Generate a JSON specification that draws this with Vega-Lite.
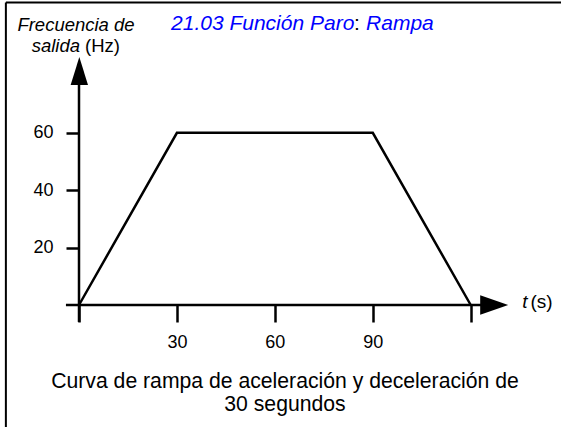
{
  "$schema": "https://vega.github.io/schema/vega-lite/v6.json",
  "width": 457,
  "height": 244,
  "autosize": {"type": "none"},
  "padding": {"left": 79, "top": 61, "right": 25, "bottom": 122},
  "background": "white",
  "config": {"view": {"stroke": null}, "font": "Liberation Sans"},
  "data": {"values": [{"t": 0, "f": 0}, {"t": 30, "f": 60}, {"t": 90, "f": 60}, {"t": 120, "f": 0}]},
  "layer": [
    {
      "mark": {"type": "line", "color": "black", "strokeWidth": 2.5},
      "encoding": {
        "x": {"field": "t", "type": "quantitative", "scale": {"domain": [0, 140], "nice": false, "zero": false},
          "axis": {"values": [0, 30, 60, 90, 120], "domain": false, "grid": false, "ticks": true, "tickSize": 17, "tickWidth": 2.5, "tickColor": "black",
            "labelExpr": "datum.value == 0 || datum.value == 120 ? '' : datum.label", "labelFontSize": 18, "labelColor": "black", "labelPadding": 11, "labelFont": "Liberation Sans", "title": null}},
        "y": {"field": "f", "type": "quantitative", "scale": {"domain": [0, 85], "nice": false, "zero": false},
          "axis": {"values": [20, 40, 60], "domain": false, "grid": false, "ticks": true, "tickSize": 13, "tickWidth": 2.5, "tickColor": "black",
            "labelFontSize": 18, "labelColor": "black", "labelPadding": 13, "labelFont": "Liberation Sans", "title": null}}
      }
    },
    {
      "data": {"values": [{}]},
      "mark": {"type": "rule", "color": "black", "strokeWidth": 2.5},
      "encoding": {"x": {"datum": -4, "type": "quantitative"}, "x2": {"datum": 127}, "y": {"datum": 0, "type": "quantitative"}}
    },
    {
      "data": {"values": [{}]},
      "mark": {"type": "rule", "color": "black", "strokeWidth": 2.5},
      "encoding": {"x": {"datum": 0, "type": "quantitative"}, "y": {"datum": -5.9, "type": "quantitative"}, "y2": {"datum": 81}}
    },
    {
      "data": {"values": [{}]},
      "mark": {"type": "point", "shape": "M-1,-0.7L1,0L-1,0.7Z", "size": 784, "filled": true, "color": "black", "opacity": 1, "strokeWidth": 0},
      "encoding": {"x": {"datum": 127.2, "type": "quantitative"}, "y": {"datum": 0, "type": "quantitative"}}
    },
    {
      "data": {"values": [{}]},
      "mark": {"type": "point", "shape": "M0,-1L0.62,1L-0.62,1Z", "size": 784, "filled": true, "color": "black", "opacity": 1, "strokeWidth": 0},
      "encoding": {"x": {"datum": 0.1, "type": "quantitative"}, "y": {"datum": 81.5, "type": "quantitative"}}
    },
    {
      "data": {"values": [{}]},
      "mark": {"type": "rule", "color": "black", "strokeWidth": 2},
      "encoding": {"x": {"datum": -22.4, "type": "quantitative"}, "y": {"datum": -43, "type": "quantitative"}, "y2": {"datum": 105.4}}
    },
    {
      "data": {"values": [{}]},
      "mark": {"type": "rule", "color": "black", "strokeWidth": 2},
      "encoding": {"x": {"datum": -22.4, "type": "quantitative"}, "x2": {"datum": 148}, "y": {"datum": 105.4, "type": "quantitative"}}
    },
    {
      "data": {"values": [{}]},
      "mark": {"type": "text", "text": "Frecuencia de", "fontStyle": "italic", "fontSize": 18.5, "align": "center", "baseline": "alphabetic", "color": "black"},
      "encoding": {"x": {"datum": -0.92, "type": "quantitative"}, "y": {"datum": 95.5, "type": "quantitative"}}
    },
    {
      "data": {"values": [{}]},
      "mark": {"type": "text", "text": "salida", "fontStyle": "italic", "fontSize": 18.5, "align": "right", "baseline": "alphabetic", "color": "black"},
      "encoding": {"x": {"datum": 0.31, "type": "quantitative"}, "y": {"datum": 88.1, "type": "quantitative"}}
    },
    {
      "data": {"values": [{}]},
      "mark": {"type": "text", "text": "(Hz)", "fontSize": 18.5, "align": "left", "baseline": "alphabetic", "color": "black"},
      "encoding": {"x": {"datum": 1.84, "type": "quantitative"}, "y": {"datum": 88.1, "type": "quantitative"}}
    },
    {
      "data": {"values": [{}]},
      "mark": {"type": "text", "text": "21.03 Función Paro", "fontStyle": "italic", "fontSize": 21, "align": "left", "baseline": "alphabetic", "color": "#0000ff"},
      "encoding": {"x": {"datum": 28.19, "type": "quantitative"}, "y": {"datum": 95.8, "type": "quantitative"}}
    },
    {
      "data": {"values": [{}]},
      "mark": {"type": "text", "text": ":", "fontSize": 21, "align": "left", "baseline": "alphabetic", "color": "black"},
      "encoding": {"x": {"datum": 84.27, "type": "quantitative"}, "y": {"datum": 95.8, "type": "quantitative"}}
    },
    {
      "data": {"values": [{}]},
      "mark": {"type": "text", "text": "Rampa", "fontStyle": "italic", "fontSize": 21, "align": "left", "baseline": "alphabetic", "color": "#0000ff"},
      "encoding": {"x": {"datum": 87.95, "type": "quantitative"}, "y": {"datum": 95.8, "type": "quantitative"}}
    },
    {
      "data": {"values": [{}]},
      "mark": {"type": "text", "text": "t", "fontStyle": "italic", "fontSize": 19, "align": "left", "baseline": "alphabetic", "color": "black"},
      "encoding": {"x": {"datum": 135.75, "type": "quantitative"}, "y": {"datum": -1.05, "type": "quantitative"}}
    },
    {
      "data": {"values": [{}]},
      "mark": {"type": "text", "text": "(s)", "fontSize": 19, "align": "left", "baseline": "alphabetic", "color": "black"},
      "encoding": {"x": {"datum": 138.3, "type": "quantitative"}, "y": {"datum": -1.05, "type": "quantitative"}}
    },
    {
      "data": {"values": [{}]},
      "mark": {"type": "text", "text": ["Curva de rampa de aceleración y deceleración de", "30 segundos"], "fontSize": 21.2, "lineHeight": 23.5, "align": "center", "baseline": "alphabetic", "color": "black"},
      "encoding": {"x": {"datum": 63.1, "type": "quantitative"}, "y": {"datum": -28.9, "type": "quantitative"}}
    }
  ]
}
